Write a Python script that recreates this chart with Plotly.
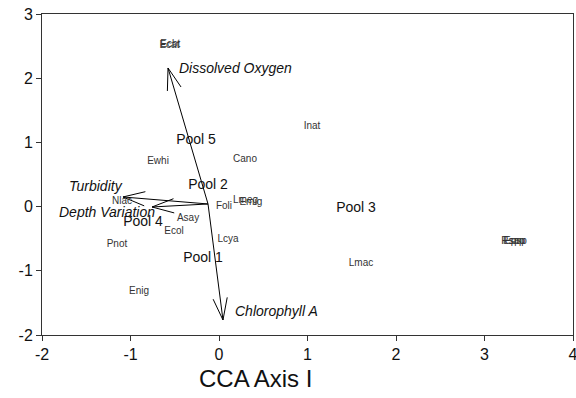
import math
import plotly.graph_objects as go

# ---- data ----
species = ["Ecat", "Ecbt", "Ewhi", "Cano", "Inat", "Lmac", "Rsap", "Fspu", "Epsp",
           "Nlac", "Foli", "Lmeg", "Emig", "Asay", "Ecol", "Pnot", "Lcya", "Enig"]
species_x = [-0.56, -0.55, -0.689, 0.294, 1.051, 1.605, 3.32, 3.335, 3.35,
             -1.096, 0.056, 0.30, 0.36, -0.350, -0.508, -1.153, 0.102, -0.904]
species_y = [2.517, 2.519, 0.695, 0.741, 1.255, -0.879, -0.536, -0.536, -0.536,
             0.072, 0.009, 0.092, 0.065, -0.178, -0.380, -0.598, -0.520, -1.330]

pools = ["Pool 5", "Pool 2", "Pool 4", "Pool 1", "Pool 3"]
pool_x = [-0.260, -0.124, -0.859, -0.181, 1.548]
pool_y = [1.037, 0.321, -0.240, -0.801, -0.037]

env_names = ["Dissolved Oxygen", "Turbidity", "Depth Variation", "Chlorophyll A"]
origin_x, origin_y = -0.124, 0.041
env_tip_x = [-0.576, -1.085, -0.757, 0.045]
env_tip_y = [2.159, 0.150, -0.006, -1.766]
env_label_x = [-0.475, -1.062, -0.701, 0.158]
env_label_y = [2.159, 0.321, -0.084, -1.626]
env_label_anchor = ["left", "right", "right", "left"]

x_ticks = [-2, -1, 0, 1, 2, 3, 4]
x_tick_labels = ["-2", "-1", "0", "1", "2", "3", "4"]
y_ticks = [-2, -1, 0, 1, 2, 3]
y_tick_labels = ["-2", "-1", "0", "1", "2", "3"]
x_range = [-2, 4]
y_range = [-2, 3]
x_title = "CCA Axis I"

# ---- layout geometry ----
W, H = 576, 398
ML, MR, MT, MB = 42, 3, 14, 63
px_per_x = (W - ML - MR) / (x_range[1] - x_range[0])
px_per_y = (H - MT - MB) / (y_range[1] - y_range[0])

fig = go.Figure()

# arrows (shaft + open V head)
barb_len = 23.0
barb_ang = math.radians(18)
for tx, ty in zip(env_tip_x, env_tip_y):
    dxp = (origin_x - tx) * px_per_x
    dyp = (origin_y - ty) * px_per_y
    base = math.atan2(dyp, dxp)
    xs = [origin_x, tx, None]
    ys = [origin_y, ty, None]
    for s in (-1, 1):
        a = base + s * barb_ang
        bx = tx + barb_len * math.cos(a) / px_per_x
        by = ty + barb_len * math.sin(a) / px_per_y
        xs += [tx, bx, None]
        ys += [ty, by, None]
    fig.add_trace(go.Scatter(x=xs, y=ys, mode="lines",
                             line=dict(color="black", width=1),
                             hoverinfo="skip", showlegend=False))

# species labels
fig.add_trace(go.Scatter(x=species_x, y=species_y, mode="text", text=species,
                         textfont=dict(family="Liberation Sans", size=10, color="#333333"),
                         textposition="middle center", showlegend=False))

# pool labels
fig.add_trace(go.Scatter(x=pool_x, y=pool_y, mode="text", text=pools,
                         textfont=dict(family="Liberation Sans", size=14, color="#111111"),
                         textposition="middle center", showlegend=False))

# env labels
for name, lx, ly, anc in zip(env_names, env_label_x, env_label_y, env_label_anchor):
    fig.add_annotation(x=lx, y=ly, text=f"<i>{name}</i>", showarrow=False,
                       xanchor=anc, yanchor="middle",
                       font=dict(family="Liberation Sans", size=14, color="#111111"))

# x-axis title (placed left of centre as in the original)
fig.add_annotation(x=0.403, y=-0.134, xref="paper", yref="paper", text=x_title,
                   showarrow=False, xanchor="center", yanchor="middle",
                   font=dict(family="Liberation Sans", size=24, color="#111111"))

axis_common = dict(showgrid=False, zeroline=False, showline=True, mirror=True,
                   linecolor="#333333", linewidth=1, ticks="outside", ticklen=5,
                   tickcolor="#333333", automargin=False, ticklabeloverflow="allow",
                   tickfont=dict(family="Liberation Sans", size=16, color="#111111"))

fig.update_layout(
    width=W, height=H,
    margin=dict(l=ML, r=MR, t=MT, b=MB),
    paper_bgcolor="white", plot_bgcolor="white",
    xaxis=dict(range=x_range, tickvals=x_ticks, ticktext=x_tick_labels, **axis_common),
    yaxis=dict(range=y_range, tickvals=y_ticks, ticktext=y_tick_labels, **axis_common),
)

fig.write_html("out.html", config={"displayModeBar": False},
               post_script="document.body.style.margin='0';document.body.style.overflow='hidden';")
